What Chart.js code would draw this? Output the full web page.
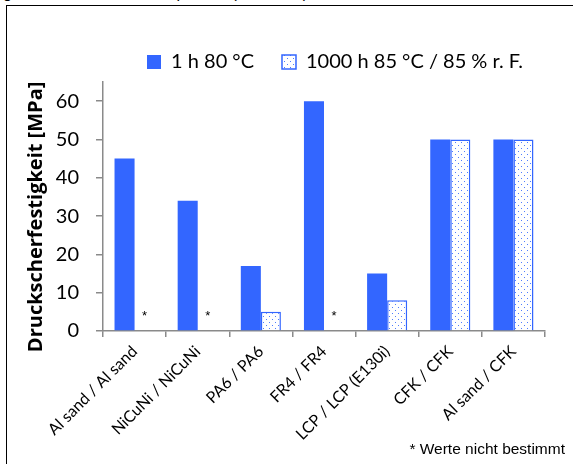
<!DOCTYPE html>
<html>
<head>
<meta charset="utf-8">
<script src="https://cdn.jsdelivr.net/npm/chart.js@4.4.0/dist/chart.umd.js"></script>
<style>
  html, body { margin: 0; padding: 0; background: #fff; overflow: hidden; }
  body { width: 573px; height: 464px; position: relative; }
  #caption { position: absolute; left: 3px; top: -15px; font: 16px "Liberation Sans", Arial, sans-serif; line-height: 16px; color: #000; white-space: nowrap; }
  #frame { position: absolute; left: 6px; top: 5px; width: 700px; height: 600px; border-left: 1px solid #000; border-top: 1px solid #000; }
  #chart { position: absolute; left: 7px; top: 6px; }
  #note { position: absolute; right: 8px; top: 441px; font: 15.5px "Liberation Sans", Arial, sans-serif; line-height: 15px; color: #000; white-space: nowrap; }
</style>
</head>
<body>
<div id="caption">gemessen bei Raumtemperatur (ca. 25 °C)</div>
<div id="frame"></div>
<canvas id="chart" width="566" height="458"></canvas>
<div id="note">* Werte nicht bestimmt</div>
<script>
// data
const categories = ['Al sand / Al sand', 'NiCuNi / NiCuNi', 'PA6 / PA6', 'FR4 / FR4', 'LCP / LCP (E130i)', 'CFK / CFK', 'Al sand / CFK'];
const seriesNames = ['1 h 80 °C', '1000 h 85 °C / 85 % r. F.'];
const shortTerm = [45, 34, 17, 60, 15, 50, 50];
const longTerm = [null, null, 5, null, 8, 50, 50]; // null = not measured (*)
const yTicks = [0, 10, 20, 30, 40, 50, 60];

const BLUE = '#3366ff';
const AXIS = '#8a8a8a';
const FONT = 'Lato, "Open Sans", sans-serif';

// dotted fill for the second series
function dotPattern() {
  const c = document.createElement('canvas');
  c.width = 6; c.height = 6;
  const g = c.getContext('2d');
  g.fillStyle = '#ffffff';
  g.fillRect(0, 0, 6, 6);
  g.fillStyle = '#4f7dff';
  g.fillRect(1, 1, 1, 1);
  g.fillRect(4, 4, 1, 1);
  return g.createPattern(c, 'repeat');
}

// asterisks where the second value is missing
const missingMarks = {
  id: 'missingMarks',
  afterDatasetsDraw(chart) {
    const ctx = chart.ctx;
    const meta = chart.getDatasetMeta(1);
    const y0 = chart.scales.y.getPixelForValue(0);
    ctx.save();
    ctx.font = '13px "Liberation Sans", Arial, sans-serif';
    ctx.fillStyle = '#000';
    ctx.textAlign = 'center';
    ctx.textBaseline = 'alphabetic';
    longTerm.forEach((v, i) => {
      if (v === null) {
        ctx.fillText('*', meta.data[i].x, y0 - 11);
      }
    });
    ctx.restore();
  }
};

// move the legend to where the original sits
const legendShift = {
  id: 'legendShift',
  afterLayout(chart) {
    chart.legend.left += 59;
    chart.legend.right += 59;
  }
};

const ctx = document.getElementById('chart').getContext('2d');
new Chart(ctx, {
  type: 'bar',
  data: {
    labels: categories,
    datasets: [
      {
        label: seriesNames[0],
        data: shortTerm,
        backgroundColor: BLUE,
        borderColor: BLUE,
        borderWidth: 0
      },
      {
        label: seriesNames[1],
        data: longTerm,
        backgroundColor: dotPattern(),
        borderColor: BLUE,
        borderWidth: 1.5
      }
    ]
  },
  options: {
    responsive: false,
    animation: false,
    devicePixelRatio: 1,
    categoryPercentage: 0.635,
    barPercentage: 1.0,
    layout: { padding: { top: 18, right: 28, left: 0, bottom: 0 } },
    plugins: {
      tooltip: { enabled: false },
      legend: {
        position: 'top',
        labels: {
          font: { family: FONT, size: 20 },
          color: '#000',
          boxWidth: 14,
          boxHeight: 14,
          padding: 28
        }
      }
    },
    scales: {
      x: {
        afterFit(scale) { scale.height = 133; },
        border: { display: true, color: AXIS, width: 1.5 },
        grid: { display: true, drawOnChartArea: false, drawTicks: true, tickLength: 6, color: AXIS, lineWidth: 1.5, offset: true },
        ticks: {
          font: { family: FONT, size: 16 },
          color: '#000',
          minRotation: 45,
          maxRotation: 45,
          autoSkip: false,
          padding: 5
        }
      },
      y: {
        min: 0,
        max: 65,
        afterFit(scale) { scale.width = 96; },
        afterBuildTicks(scale) { scale.ticks = yTicks.map(v => ({ value: v })); },
        border: { display: true, color: AXIS, width: 1.5 },
        grid: { display: true, drawOnChartArea: false, drawTicks: true, tickLength: 7, color: AXIS, lineWidth: 1.5 },
        ticks: {
          font: { family: FONT, size: 20 },
          color: '#000',
          padding: 17
        },
        title: {
          display: true,
          text: 'Druckscherfestigkeit [MPa]\u00a0\u00a0\u00a0\u00a0',
          font: { family: '"Open Sans", Lato, sans-serif', size: 20, weight: 'bold' },
          color: '#000',
          padding: { top: 17, bottom: 0 }
        }
      }
    }
  },
  plugins: [missingMarks, legendShift]
});
</script>
</body>
</html>
